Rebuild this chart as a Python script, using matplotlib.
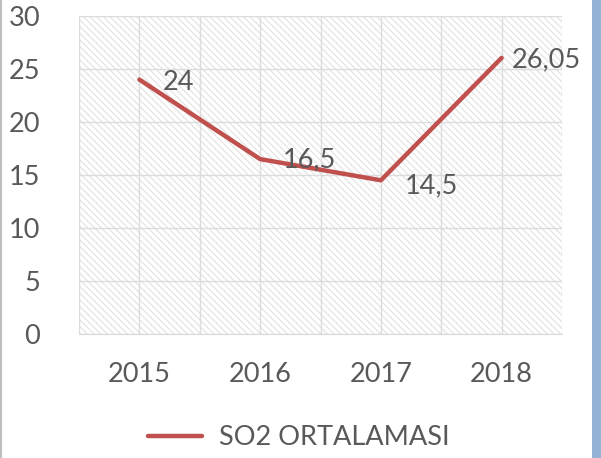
import matplotlib.pyplot as plt
from matplotlib.patches import Rectangle

years = ["2015", "2016", "2017", "2018"]
so2 = [24, 16.5, 14.5, 26.05]
labels = ["24", "16,5", "14,5", "26,05"]

plt.rcParams['font.family'] = ['Lato', 'DejaVu Sans']
plt.rcParams['hatch.linewidth'] = 0.7
txt = '#595959'
red = '#C0504D'

fig = plt.figure(figsize=(6.01, 4.58), dpi=100)
W, H = 601, 458
ax = fig.add_axes([79 / W, 1 - 334 / H, 483 / W, 318 / H])

# hatched background
ax.add_patch(Rectangle((0, 0), 1, 1, transform=ax.transAxes, facecolor='white',
                       edgecolor='#DEDEDE', hatch='\\\\\\\\\\', linewidth=0, zorder=0))

x = list(range(len(years)))
line, = ax.plot(x, so2, color=red, linewidth=3.2, solid_capstyle='round', zorder=3)

ax.set_xlim(-0.5, 3.5)
ax.set_ylim(0, 30)
ax.set_yticks(range(0, 31, 5))
ax.set_xticks(x)
ax.set_xticklabels(years)
ax.set_xticks([i - 0.5 for i in range(5)], minor=True)
ax.grid(axis='y', color='#DCDCDC', linewidth=1, zorder=1)
ax.grid(axis='x', which='both', color='#DCDCDC', linewidth=1, zorder=1)
ax.set_axisbelow(True)
ax.tick_params(which='both', length=0, labelsize=19.5, colors=txt)
ax.tick_params(axis='y', pad=28)
ax.tick_params(axis='x', pad=20)
for s in ['top', 'right', 'left']:
    ax.spines[s].set_visible(False)
ax.spines['bottom'].set_color('#D9D9D9')

offs = [(23, -3), (23, -1), (24, -6), (10, -2)]
for xi, v, lab, o in zip(x, so2, labels, offs):
    ax.annotate(lab, (xi, v), xytext=o, textcoords='offset pixels',
                fontsize=19.5, color=txt, ha='left', va='center')

ax.legend([line], ['SO2 ORTALAMASI'], loc='center', bbox_to_anchor=(0.455, -0.327),
          frameon=False, fontsize=19.5, labelcolor=txt, handlelength=2.0,
          handletextpad=0.6)

# figure borders
fig.add_artist(Rectangle((592 / W, 0), 9 / W, 1, transform=fig.transFigure,
                         facecolor='#95B3D7', edgecolor='none'))
fig.add_artist(plt.Line2D([1 / W, 1 / W], [0, 1], transform=fig.transFigure,
                          color='#BFBFBF', linewidth=1.5))

fig.savefig('out.png', dpi=100)
